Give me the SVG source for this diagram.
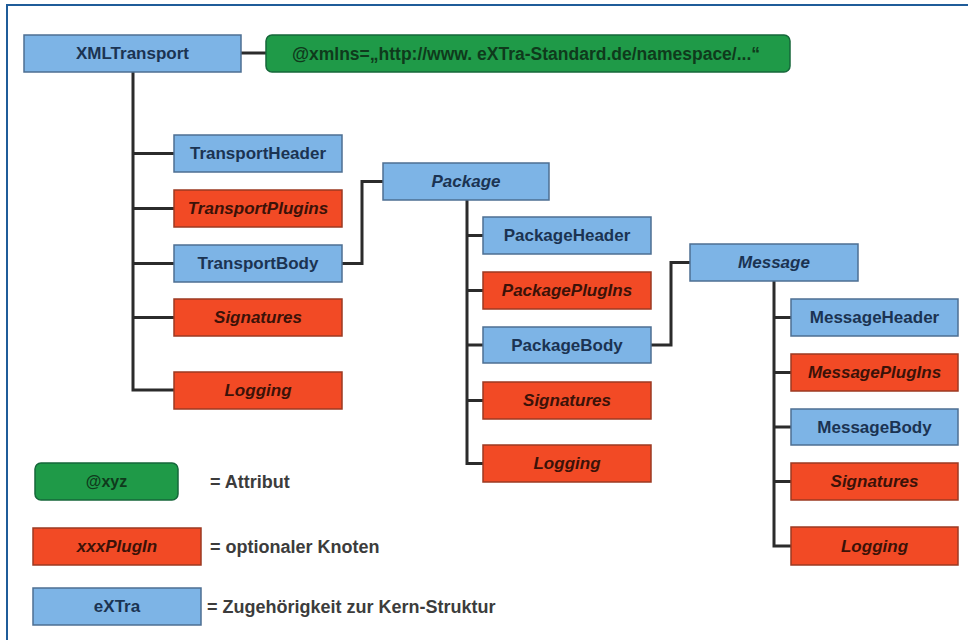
<svg xmlns="http://www.w3.org/2000/svg" width="968" height="640" viewBox="0 0 968 640">
<style>
.blue{fill:#7db4e6;stroke:#4d6f92;stroke-width:1.5}
.red{fill:#f24a25;stroke:#9c3a22;stroke-width:1.5}
.green{fill:#1f9a48;stroke:#16673a;stroke-width:1.5}
.t{font-family:"Liberation Sans",Arial,sans-serif;font-weight:bold;font-size:17px;text-anchor:middle;dominant-baseline:central}
.tb{fill:#1b3352}
.tr{fill:#3b1208;font-style:italic}
.tbi{fill:#1b3352;font-style:italic}
.tg{fill:#0f3a1c;font-size:17.5px}
.leg{font-family:"Liberation Sans",Arial,sans-serif;font-weight:bold;font-size:18px;fill:#3c3c3c;dominant-baseline:central}
.c{fill:none;stroke:#2b2b2b;stroke-width:3}
</style>
<rect x="0" y="0" width="968" height="640" fill="#ffffff"/>
<path d="M7 640 V5 H968" fill="none" stroke="#1f5c99" stroke-width="2"/>
<g id="connectors">
<path class="c" d="M241 53 H266"/>
<path class="c" d="M133 72 V390 H174"/>
<path class="c" d="M133 153.5 H174 M133 208.5 H174 M133 263.5 H174 M133 317.5 H174"/>
<path class="c" d="M342 263.5 H362 V181.5 H383"/>
<path class="c" d="M467 200 V463.5 H483"/>
<path class="c" d="M467 235.5 H483 M467 290.5 H483 M467 345 H483 M467 400.5 H483"/>
<path class="c" d="M651 345 H671 V262.5 H690"/>
<path class="c" d="M774 281 V546 H791"/>
<path class="c" d="M774 317.5 H791 M774 372.5 H791 M774 427 H791 M774 481.5 H791"/>
</g>
<g id="XMLTransport"><rect class="blue" x="24" y="35" width="217" height="37"/><text class="t tb" x="132.5" y="53.5">XMLTransport</text></g>
<g id="xmlns"><rect class="green" x="266" y="35" width="524" height="37" rx="6"/><text class="t tg" x="526" y="53.5">@xmlns=„http://www. eXTra-Standard.de/namespace/...“</text></g>
<g id="TransportHeader"><rect class="blue" x="174" y="135" width="168" height="37"/><text class="t tb" x="258" y="153.5">TransportHeader</text></g>
<g id="TransportPlugins"><rect class="red" x="174" y="190" width="168" height="37"/><text class="t tr" x="258" y="208.5">TransportPlugins</text></g>
<g id="TransportBody"><rect class="blue" x="174" y="245" width="168" height="37"/><text class="t tb" x="258" y="263.5">TransportBody</text></g>
<g id="Signatures1"><rect class="red" x="174" y="299" width="168" height="37"/><text class="t tr" x="258" y="317.5">Signatures</text></g>
<g id="Logging1"><rect class="red" x="174" y="372" width="168" height="37"/><text class="t tr" x="258" y="390.5">Logging</text></g>
<g id="Package"><rect class="blue" x="383" y="163" width="166" height="37"/><text class="t tbi" x="466" y="181.5">Package</text></g>
<g id="PackageHeader"><rect class="blue" x="483" y="217" width="168" height="37"/><text class="t tb" x="567" y="235.5">PackageHeader</text></g>
<g id="PackagePlugIns"><rect class="red" x="483" y="272" width="168" height="37"/><text class="t tr" x="567" y="290.5">PackagePlugIns</text></g>
<g id="PackageBody"><rect class="blue" x="483" y="327" width="168" height="36"/><text class="t tb" x="567" y="345">PackageBody</text></g>
<g id="Signatures2"><rect class="red" x="483" y="382" width="168" height="37"/><text class="t tr" x="567" y="400.5">Signatures</text></g>
<g id="Logging2"><rect class="red" x="483" y="445" width="168" height="37"/><text class="t tr" x="567" y="463.5">Logging</text></g>
<g id="Message"><rect class="blue" x="690" y="244" width="168" height="37"/><text class="t tbi" x="774" y="262.5">Message</text></g>
<g id="MessageHeader"><rect class="blue" x="791" y="299" width="167" height="37"/><text class="t tb" x="874.5" y="317.5">MessageHeader</text></g>
<g id="MessagePlugIns"><rect class="red" x="791" y="354" width="167" height="37"/><text class="t tr" x="874.5" y="372.5">MessagePlugIns</text></g>
<g id="MessageBody"><rect class="blue" x="791" y="409" width="167" height="36"/><text class="t tb" x="874.5" y="427">MessageBody</text></g>
<g id="Signatures3"><rect class="red" x="791" y="463" width="167" height="37"/><text class="t tr" x="874.5" y="481.5">Signatures</text></g>
<g id="Logging3"><rect class="red" x="791" y="527" width="167" height="38"/><text class="t tr" x="874.5" y="546">Logging</text></g>
<g id="legend-attr"><rect class="green" x="35" y="463" width="143" height="37" rx="6"/><text class="t tg" x="106.5" y="481.5" style="font-size:16px">@xyz</text><text class="leg" x="210" y="481.5">= Attribut</text></g>
<g id="legend-opt"><rect class="red" x="33" y="528" width="168" height="37"/><text class="t tr" x="117" y="546.5">xxxPlugIn</text><text class="leg" x="210" y="546.5">= optionaler Knoten</text></g>
<g id="legend-core"><rect class="blue" x="33" y="588" width="168" height="37"/><text class="t tb" x="117" y="606.5">eXTra</text><text class="leg" x="207" y="606.5">= Zugehörigkeit zur Kern-Struktur</text></g>
</svg>
